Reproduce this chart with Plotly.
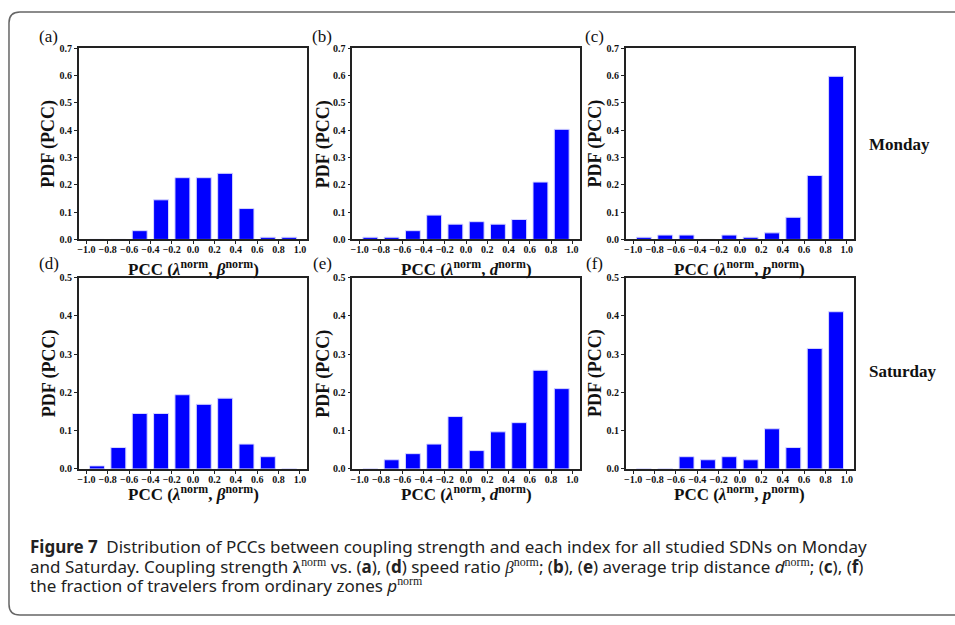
import plotly.graph_objects as go

# ---------------- data ----------------
bin_centers = [-0.9, -0.7, -0.5, -0.3, -0.1, 0.1, 0.3, 0.5, 0.7, 0.9]
monday_beta = [0.0, 0.0, 0.032, 0.145, 0.226, 0.226, 0.242, 0.113, 0.008, 0.008]
monday_d = [0.008, 0.008, 0.032, 0.089, 0.056, 0.065, 0.056, 0.073, 0.210, 0.403]
monday_p = [0.008, 0.016, 0.016, 0.0, 0.016, 0.008, 0.024, 0.081, 0.234, 0.597]
saturday_beta = [0.008, 0.056, 0.145, 0.145, 0.194, 0.169, 0.185, 0.065, 0.032, 0.0]
saturday_d = [0.0, 0.024, 0.040, 0.065, 0.137, 0.048, 0.097, 0.121, 0.258, 0.210]
saturday_p = [0.0, 0.0, 0.032, 0.024, 0.032, 0.024, 0.105, 0.056, 0.315, 0.411]

x_tick_vals = [-1.0, -0.8, -0.6, -0.4, -0.2, 0.0, 0.2, 0.4, 0.6, 0.8, 1.0]
x_tick_text = ["\u22121.0", "\u22120.8", "\u22120.6", "\u22120.4", "\u22120.2",
               "0.0", "0.2", "0.4", "0.6", "0.8", "1.0"]
y_ticks_monday = [0.0, 0.1, 0.2, 0.3, 0.4, 0.5, 0.6, 0.7]
y_ticks_saturday = [0.0, 0.1, 0.2, 0.3, 0.4, 0.5]

panel_labels = ["(a)", "(b)", "(c)", "(d)", "(e)", "(f)"]
x_titles = [
    "<b>PCC (<i>λ</i><sup>norm</sup>, <i>β</i><sup>norm</sup>)</b>",
    "<b>PCC (<i>λ</i><sup>norm</sup>, <i>d</i><sup>norm</sup>)</b>",
    "<b>PCC (<i>λ</i><sup>norm</sup>, <i>p</i><sup>norm</sup>)</b>",
]
y_title = "<b>PDF (PCC)</b>"
row_labels = ["Monday", "Saturday"]

# ---------------- layout helpers ----------------
W, H = 955, 625
SERIF = "Liberation Serif"
SANS = "Noto Sans"


def px(x):
    return x / W


def py(y):
    return 1 - y / H


col_px = [(77, 306), (351, 579), (625, 854)]
row_px = [(43, 238), (277, 472)]
series = [[monday_beta, monday_d, monday_p], [saturday_beta, saturday_d, saturday_p]]
yticks = [y_ticks_monday, y_ticks_saturday]
yranges = [[0, 0.7], [0, 0.5]]

fig = go.Figure()
layout = dict(
    width=W, height=H,
    margin=dict(l=0, r=0, t=0, b=0),
    paper_bgcolor="white", plot_bgcolor="white",
    showlegend=False,
)

annotations = []
k = 0
for r in range(2):
    for c in range(3):
        k += 1
        xa = "x" if k == 1 else f"x{k}"
        ya = "y" if k == 1 else f"y{k}"
        fig.add_trace(go.Bar(
            x=bin_centers, y=series[r][c], width=0.14,
            marker=dict(color="#0000ff", line=dict(color="#d8d8ff", width=1)),
            xaxis=xa, yaxis=ya, hoverinfo="x+y",
        ))
        x0, x1 = col_px[c]
        y0, y1 = row_px[r]
        axkey = "xaxis" if k == 1 else f"xaxis{k}"
        aykey = "yaxis" if k == 1 else f"yaxis{k}"
        layout[axkey] = dict(
            domain=[px(x0), px(x1)], anchor=ya, range=[-1.07, 1.07],
            tickvals=x_tick_vals, ticktext=x_tick_text, tickangle=0,
            showline=True, mirror=True, linecolor="#222", linewidth=1.5,
            ticks="outside", ticklen=3, tickwidth=1, tickcolor="#222",
            showgrid=False, zeroline=False, ticklabelstandoff=-3,
            tickfont=dict(family=SERIF, size=10, color="#111", weight="bold"),
        )
        layout[aykey] = dict(
            domain=[py(y1), py(y0)], anchor=xa, range=yranges[r],
            tickvals=yticks[r], ticktext=[f"{v:.1f}" for v in yticks[r]],
            showline=True, mirror=True, linecolor="#222", linewidth=1.5,
            ticks="outside", ticklen=3, tickwidth=1, tickcolor="#222",
            showgrid=False, zeroline=False,
            tickfont=dict(family=SERIF, size=10, color="#111", weight="bold"),
        )
        # panel letter
        lx = [47, 321, 594][c]
        ly = [31, 263][r]
        annotations.append(dict(
            text=panel_labels[k - 1], x=px(lx), y=py(ly), xref="paper", yref="paper",
            showarrow=False, xanchor="center", yanchor="middle",
            font=dict(family=SERIF, size=17, color="#111"),
        ))
        # y title
        tx = [47, 322, 595][c]
        annotations.append(dict(
            text=y_title, x=px(tx), y=py((y0 + y1) / 2), xref="paper", yref="paper",
            showarrow=False, xanchor="center", yanchor="middle", textangle=-90,
            font=dict(family=SERIF, size=18, color="#111"),
        ))
        # x title
        annotations.append(dict(
            text=x_titles[c], x=px((x0 + x1) / 2), y=py([267, 497][r]),
            xref="paper", yref="paper",
            showarrow=False, xanchor="center", yanchor="middle",
            font=dict(family=SERIF, size=17, color="#111"),
        ))

# row labels
annotations.append(dict(text="<b>" + row_labels[0] + "</b>", x=px(899), y=py(141),
                        xref="paper", yref="paper", showarrow=False,
                        xanchor="center", yanchor="middle",
                        font=dict(family=SERIF, size=17, color="#111")))
annotations.append(dict(text="<b>" + row_labels[1] + "</b>", x=px(903), y=py(373),
                        xref="paper", yref="paper", showarrow=False,
                        xanchor="center", yanchor="middle",
                        font=dict(family=SERIF, size=17, color="#111")))

# caption
serif_span = "<span style='font-family:Liberation Serif'>"
cap1 = "<b>Figure 7</b>\u2002Distribution of PCCs between coupling strength and each index for all studied SDNs on Monday"
cap2 = ("and Saturday. Coupling strength " + serif_span + "<b>λ</b><sup>norm</sup></span>"
        " vs. (<b>a</b>), (<b>d</b>) speed ratio " + serif_span + "<i>β</i><sup>norm</sup></span>"
        "; (<b>b</b>), (<b>e</b>) average trip distance <i>d</i>" + serif_span + "<sup>norm</sup></span>"
        "; (<b>c</b>), (<b>f</b>)")
cap3 = "the fraction of travelers from ordinary zones <i>p</i>" + serif_span + "<sup>norm</sup></span>"
for txt, yy in [(cap1, 551), (cap2, 571), (cap3, 591)]:
    annotations.append(dict(text=txt, x=px(26), y=py(yy), xref="paper", yref="paper",
                            showarrow=False, xanchor="left", yanchor="middle",
                            font=dict(family=SANS, size=17, color="#222")))

layout["annotations"] = annotations

# rounded outer border
x0b, y0b, x1b, y1b, rr = 7, 6, 975, 621, 11


def P(x, y):
    return f"{px(x):.5f},{py(y):.5f}"


path = (f"M {P(x0b + rr, y0b)} L {P(x1b - rr, y0b)} Q {P(x1b, y0b)} {P(x1b, y0b + rr)} "
        f"L {P(x1b, y1b - rr)} Q {P(x1b, y1b)} {P(x1b - rr, y1b)} "
        f"L {P(x0b + rr, y1b)} Q {P(x0b, y1b)} {P(x0b, y1b - rr)} "
        f"L {P(x0b, y0b + rr)} Q {P(x0b, y0b)} {P(x0b + rr, y0b)} Z")
layout["shapes"] = [dict(type="path", path=path, xref="paper", yref="paper",
                         line=dict(color="#666", width=1.5))]

fig.update_layout(**layout)
fig.write_html("out.html")
